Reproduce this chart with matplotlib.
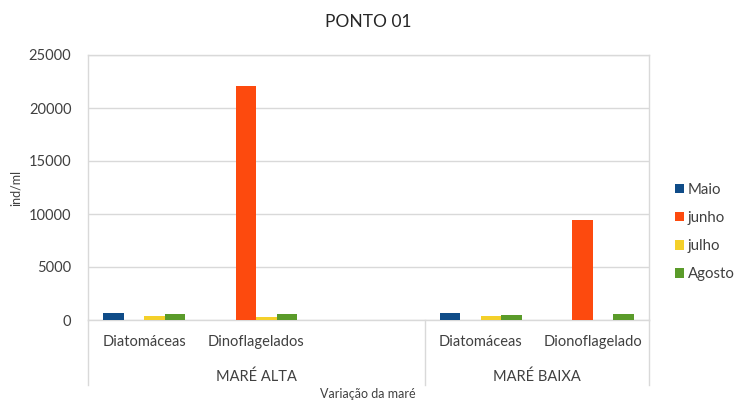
import matplotlib
matplotlib.use('Agg')
import matplotlib.pyplot as plt
import matplotlib.transforms as mtransforms
import numpy as np

plt.rcParams['font.family'] = ['Lato', 'DejaVu Sans']

# data
categorias = ['Diatomáceas', 'Dinoflagelados', '', 'Diatomáceas', 'Dionoflagelado']
grupos = ['MARÉ ALTA', 'MARÉ BAIXA']
grupo_limites = [(-0.5, 2.5), (2.5, 4.5)]
meses = ['Maio', 'junho', 'julho', 'Agosto']
maio = [630, 0, 0, 630, 0]
junho = [0, 22050, 0, 0, 9420]
julho = [380, 250, 0, 370, 0]
agosto = [550, 530, 0, 470, 540]
cores = ['#0f4c88', '#fd4a0e', '#f4d02a', '#5a9b2a']

series = [maio, junho, julho, agosto]

fig = plt.figure(figsize=(7.37, 4.04), dpi=100)
ax = fig.add_axes([88/737, 1 - 320/404, (649-88)/737, (320-55)/404])

x = np.arange(len(categorias))
w = 0.183
for i, (vals, c, m) in enumerate(zip(series, cores, meses)):
    ax.bar(x + (i - 1.5) * w, vals, w, color=c, label=m, zorder=3)

ax.set_xlim(-0.5, len(categorias) - 0.5)
ax.set_ylim(0, 25000)
ax.set_yticks(range(0, 25001, 5000))
ax.yaxis.grid(True, color='#d9d9d9', lw=1)
ax.set_axisbelow(True)
ax.tick_params(axis='y', length=0, labelsize=10.5, labelcolor='#404040', pad=12)
ax.set_xticks([])
for s in ax.spines.values():
    s.set_color('#d9d9d9')
    s.set_linewidth(1)

# two-level category axis
trans = mtransforms.blended_transform_factory(ax.transData, ax.transAxes)
px = 1 / (320 - 55)
for xi, lab in zip(x, categorias):
    ax.text(xi, -22 * px, lab, transform=trans, ha='center', va='center',
            fontsize=10.5, color='#404040')
for (a, b), g in zip(grupo_limites, grupos):
    ax.text((a + b) / 2, -57 * px, g, transform=trans, ha='center', va='center',
            fontsize=10.5, color='#404040')
for xb in [-0.5, 2.5, 4.5]:
    ax.plot([xb, xb], [0, -65 * px], transform=trans, color='#d9d9d9',
            lw=1, clip_on=False)

ax.set_ylabel('ind/ml', fontsize=9, color='#404040', labelpad=5)
fig.text(368/737, 1 - 394/404, 'Variação da maré', ha='center', va='center',
         fontsize=9, color='#404040')
fig.text(368/737, 1 - 22/404, 'PONTO 01', ha='center', va='center',
         fontsize=12.5, color='#262626')

ax.legend(loc='center left', bbox_to_anchor=(669/737, 1 - 232/404),
          bbox_transform=fig.transFigure, frameon=False, fontsize=10.8,
          handlelength=0.6, handleheight=0.6, handletextpad=0.25,
          labelspacing=0.95, labelcolor='#404040', borderaxespad=0)

fig.savefig('out.png', dpi=100)
